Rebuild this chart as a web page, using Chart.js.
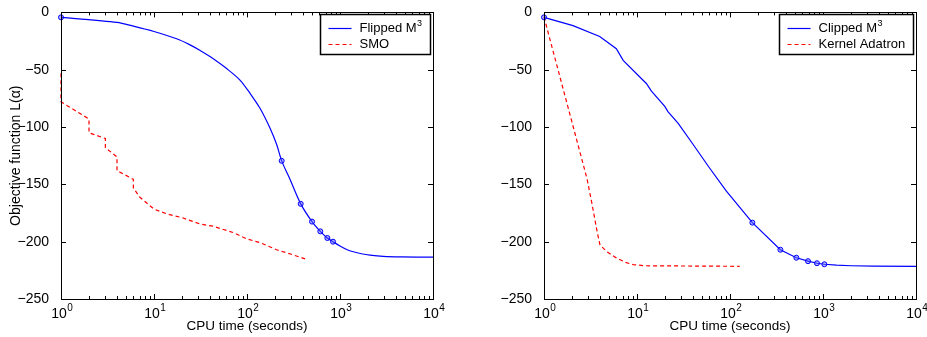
<!DOCTYPE html>
<html>
<head>
<meta charset="utf-8">
<script src="https://cdn.jsdelivr.net/npm/chart.js@4.4.1/dist/chart.umd.min.js"></script>
<style>
  body { margin: 0; background: #fff; }
  #wrap { position: relative; width: 927px; height: 337px; }
  canvas { position: absolute; top: 0; }
</style>
</head>
<body>
<div id="wrap">
  <canvas id="left-chart" width="463" height="337" style="left:0"></canvas>
  <canvas id="right-chart" width="464" height="337" style="left:463px"></canvas>
</div>
<script>
// values

// left panel: Flipped M3 vs SMO
const flippedX = [1, 4, 6, 10, 17.5, 24.4, 31, 43.4, 60.4, 84, 108, 138, 177, 208, 236, 290, 378, 500, 614, 731, 841, 1000, 1180, 1390, 1700, 2100, 2920, 4500, 10000];
const flippedY = [-4.3, -8.7, -12, -16.7, -23, -28.3, -33, -40.4, -49, -59, -70.7, -83.6, -101, -115, -129.5, -145.6, -167, -182.5, -191, -196.8, -200, -203.8, -206.8, -208.8, -210.5, -211.7, -212.8, -213.3, -213.5];
const flippedMarks = [1, 236, 378, 500, 614, 731, 841];

const smoX = [1, 1, 2, 2, 3, 3, 4, 4, 6, 6, 7, 10, 14, 20, 31, 43, 71, 99, 140, 208, 300, 421];
const smoY = [-53, -78, -93, -105, -110, -118, -126, -138, -145.6, -153, -161, -171.6, -176, -179, -184.5, -186.5, -192, -197.5, -201, -207, -211, -215];

// right panel: Clipped M3 vs Kernel Adatron
const clippedX = [1, 2.05, 3.97, 6.0, 7.1, 12.6, 14.3, 19.9, 21.5, 27.6, 40, 60, 91, 174, 348, 517, 690, 861, 1035, 1400, 2000, 3500, 10000];
const clippedY = [-4.3, -11.5, -21, -31.7, -41.8, -62, -68.6, -82, -86.5, -96.6, -115, -135.5, -155.7, -183.4, -207, -214, -217, -218.8, -219.7, -220.5, -221, -221.4, -221.5];
const clippedMarks = [1, 174, 348, 517, 690, 861, 1035];

const adatronX = [1, 2.9, 3.3, 3.7, 4, 4.8, 5.8, 7.5, 9.1, 12, 127];
const adatronY = [-4, -145, -168, -190, -203, -209, -213.5, -218, -220, -221, -221.5];

// axes
const yTicks = [0, -50, -100, -150, -200, -250];
const xDecades = [1, 10, 100, 1000, 10000];
const xTitle = 'CPU time (seconds)';
const yTitle = 'Objective function L(α)';

const FONT = '"Liberation Sans", Arial, Helvetica, sans-serif';
Chart.defaults.font.family = FONT;
Chart.defaults.font.size = 14;
Chart.defaults.color = '#000';

function pts(xs, ys) {
  return xs.map((x, i) => ({ x: x, y: ys[i] }));
}

// text with a raised exponent, returns width
function drawSup(ctx, base, sup, x, y, size) {
  ctx.font = size + 'px ' + FONT;
  ctx.fillText(base, x, y);
  const w1 = ctx.measureText(base).width;
  if (!sup) return w1;
  const s = Math.round(size * 0.7);
  ctx.font = s + 'px ' + FONT;
  ctx.fillText(sup, x + w1 + 0.5, y - size * 0.4);
  return w1 + 0.5 + ctx.measureText(sup).width;
}
function supWidth(ctx, base, sup, size) {
  ctx.font = size + 'px ' + FONT;
  let w = ctx.measureText(base).width;
  if (sup) {
    ctx.font = Math.round(size * 0.7) + 'px ' + FONT;
    w += 0.5 + ctx.measureText(sup).width;
  }
  return w;
}
function splitLabel(label) {
  if (label.indexOf('³') >= 0) return [label.replace('³', ''), '3'];
  return [label, ''];
}

// box, inward ticks, decade labels and legend
const matlabAxes = {
  id: 'matlabAxes',
  afterDatasetsDraw(chart) {
    const { ctx, chartArea: a } = chart;
    const xs = chart.scales.x, ys = chart.scales.y;
    ctx.save();
    ctx.strokeStyle = '#000';
    ctx.lineWidth = 1;
    ctx.beginPath();
    yTicks.forEach(v => {
      const py = Math.round(ys.getPixelForValue(v)) + 0.5;
      ctx.moveTo(a.left, py); ctx.lineTo(a.left + 5, py);
      ctx.moveTo(a.right, py); ctx.lineTo(a.right - 5, py);
    });
    xDecades.forEach((d, i) => {
      for (let m = 1; m < 10; m++) {
        if (m > 1 && i === xDecades.length - 1) break;
        const px = Math.round(xs.getPixelForValue(d * m)) + 0.5;
        const len = m === 1 ? 5 : 3;
        ctx.moveTo(px, a.bottom); ctx.lineTo(px, a.bottom - len);
        ctx.moveTo(px, a.top); ctx.lineTo(px, a.top + len);
      }
    });
    ctx.stroke();
    ctx.strokeRect(Math.round(a.left) + 0.5, Math.round(a.top) + 0.5,
      Math.round(a.right - a.left), Math.round(a.bottom - a.top));

    // x decade labels 10^k
    ctx.fillStyle = '#000';
    ctx.textAlign = 'left';
    ctx.textBaseline = 'middle';
    xDecades.forEach((d, i) => {
      const px = xs.getPixelForValue(d);
      const w = supWidth(ctx, '10', String(i), 14);
      drawSup(ctx, '10', String(i), px - w / 2 + 1, a.bottom + 15, 14);
    });
    ctx.restore();
  },
  afterDraw(chart) {
    const { ctx, chartArea: a } = chart;
    const sets = chart.data.datasets;
    ctx.save();
    ctx.textAlign = 'left';
    ctx.textBaseline = 'middle';
    let tw = 0;
    sets.forEach(ds => {
      const [b, s] = splitLabel(ds.label);
      tw = Math.max(tw, supWidth(ctx, b, s, 13));
    });
    const boxW = Math.round(8 + 23 + 8 + tw + 8);
    const boxH = 40;
    const bx = Math.round(a.right - 3 - boxW) + 0.5;
    const by = Math.round(a.top + 2) + 0.5;
    ctx.fillStyle = '#fff';
    ctx.fillRect(bx, by, boxW, boxH);
    ctx.strokeStyle = '#000';
    ctx.lineWidth = 1.5;
    ctx.strokeRect(bx, by, boxW, boxH);
    sets.forEach((ds, i) => {
      const ry = by + 14 + i * 16;
      ctx.strokeStyle = ds.borderColor;
      ctx.lineWidth = ds.borderWidth;
      ctx.setLineDash(ds.borderDash || []);
      ctx.beginPath();
      ctx.moveTo(bx + 8, ry); ctx.lineTo(bx + 31, ry);
      ctx.stroke();
      ctx.setLineDash([]);
      ctx.fillStyle = '#000';
      const [b, s] = splitLabel(ds.label);
      drawSup(ctx, b, s, bx + 39, ry, 13);
    });
    ctx.restore();
  }
};

function solidSet(label, xs, ys, marks, tension) {
  return {
    label: label,
    data: pts(xs, ys),
    borderColor: '#0000ff',
    borderWidth: 1.2,
    tension: tension,
    pointRadius: c => (c.raw && marks.includes(c.raw.x)) ? 2.5 : 0,
    pointBorderColor: '#0000ff',
    pointBackgroundColor: 'rgba(90,90,255,0.45)',
    pointBorderWidth: 1,
    clip: false
  };
}
function dashedSet(label, xs, ys) {
  return {
    label: label,
    data: pts(xs, ys),
    borderColor: '#ff0000',
    borderWidth: 1.2,
    borderDash: [4, 3],
    tension: 0,
    pointRadius: 0,
    clip: false
  };
}

function makeChart(id, datasets, showYTitle, yWidth, rightPad) {
  return new Chart(document.getElementById(id), {
    type: 'line',
    data: { datasets: datasets },
    options: {
      responsive: false,
      animation: false,
      layout: { padding: { top: 10, right: rightPad, left: 0, bottom: 0 } },
      plugins: { legend: { display: false }, tooltip: { enabled: false } },
      scales: {
        x: {
          type: 'logarithmic',
          min: 1,
          max: 10000,
          grid: { display: false },
          border: { display: false },
          ticks: { display: false },
          title: { display: true, text: xTitle, font: { size: 13.5 }, padding: { top: 0, bottom: 3 } },
          afterFit: s => { s.height = 38; }
        },
        y: {
          min: -250,
          max: 0,
          grid: { display: false },
          border: { display: false },
          ticks: {
            stepSize: 50,
            padding: 4,
            font: { size: 14 },
            callback: v => v < 0 ? '\u2212' + Math.abs(v) : String(v)
          },
          title: { display: showYTitle, text: yTitle, font: { size: 14 }, padding: { top: 8, bottom: 0 } },
          afterFit: s => { s.width = yWidth; }
        }
      }
    },
    plugins: [matlabAxes]
  });
}

makeChart('left-chart', [
  solidSet('Flipped M³', flippedX, flippedY, flippedMarks, 0.3),
  dashedSet('SMO', smoX, smoY)
], true, 61, 30);

makeChart('right-chart', [
  solidSet('Clipped M³', clippedX, clippedY, clippedMarks, 0),
  dashedSet('Kernel Adatron', adatronX, adatronY)
], false, 81, 11);
</script>
</body>
</html>
